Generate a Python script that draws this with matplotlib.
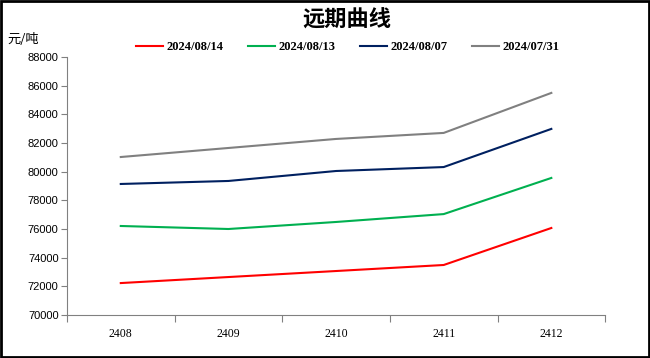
import matplotlib.pyplot as plt
from matplotlib.patches import Rectangle
from matplotlib.lines import Line2D

# contract months on x axis
contracts = ["2408", "2409", "2410", "2411", "2412"]

# curve values (yuan/ton)
curve_0814 = [72230, 72650, 73070, 73490, 76070]
curve_0813 = [76210, 76000, 76490, 77040, 79560]
curve_0807 = [79140, 79350, 80045, 80320, 82980]
curve_0731 = [81020, 81650, 82280, 82700, 85490]

labels = ["2024/08/14", "2024/08/13", "2024/08/07", "2024/07/31"]
colors = ["#FF0000", "#00B050", "#002060", "#808080"]
y_ticks = list(range(70000, 88001, 2000))

fig = plt.figure(figsize=(6.5, 3.58), dpi=100)
ax = fig.add_axes([0.103, 0.120, 0.828, 0.721])

x = list(range(len(contracts)))
series = [curve_0814, curve_0813, curve_0807, curve_0731]
for vals, lab, col in zip(series, labels, colors):
    ax.plot(x, vals, color=col, linewidth=1.5, label=lab)

ax.set_xlim(-0.5, len(contracts) - 0.5)
ax.set_ylim(70000, 88000)
ax.set_yticks(y_ticks)
ax.set_yticklabels([str(v) for v in y_ticks], fontfamily="Liberation Sans", fontsize=8)

# category labels centred, tick marks on the boundaries
ax.set_xticks(x)
ax.set_xticklabels(contracts, fontfamily="Liberation Serif", fontsize=8.5)
ax.set_xticks([i - 0.5 for i in range(len(contracts) + 1)], minor=True)
ax.tick_params(axis="x", which="major", length=0, pad=9)
ax.tick_params(axis="x", which="minor", length=5, color="#808080", width=0.8)
ax.tick_params(axis="y", length=4, color="#808080", width=0.8, pad=2)

for side in ["top", "right"]:
    ax.spines[side].set_visible(False)
for side in ["left", "bottom"]:
    ax.spines[side].set_color("#808080")
    ax.spines[side].set_linewidth(0.8)

fig.text(0.534, 0.945, "远期曲线", ha="center", va="center",
         fontfamily="Noto Sans CJK SC", fontweight="bold", fontsize=16)
fig.text(0.011, 0.889, "元/吨", ha="left", va="center",
         fontfamily=["Noto Sans CJK SC", "DejaVu Sans"], fontsize=9.5)

handles = [Line2D([0], [0], color=c, linewidth=1.5) for c in colors]
fig.legend(handles, labels, loc="center", bbox_to_anchor=(0.535, 0.869), ncol=4,
           frameon=False, handlelength=2.1, handletextpad=0.3, columnspacing=2.0,
           prop={"family": "Liberation Serif", "weight": "bold", "size": 9})

# black frame round the whole picture
fig.patches.append(Rectangle((0.0015, 0.003), 0.997, 0.994, transform=fig.transFigure,
                             fill=False, edgecolor="black", linewidth=2))

fig.savefig("out.png", dpi=100)
